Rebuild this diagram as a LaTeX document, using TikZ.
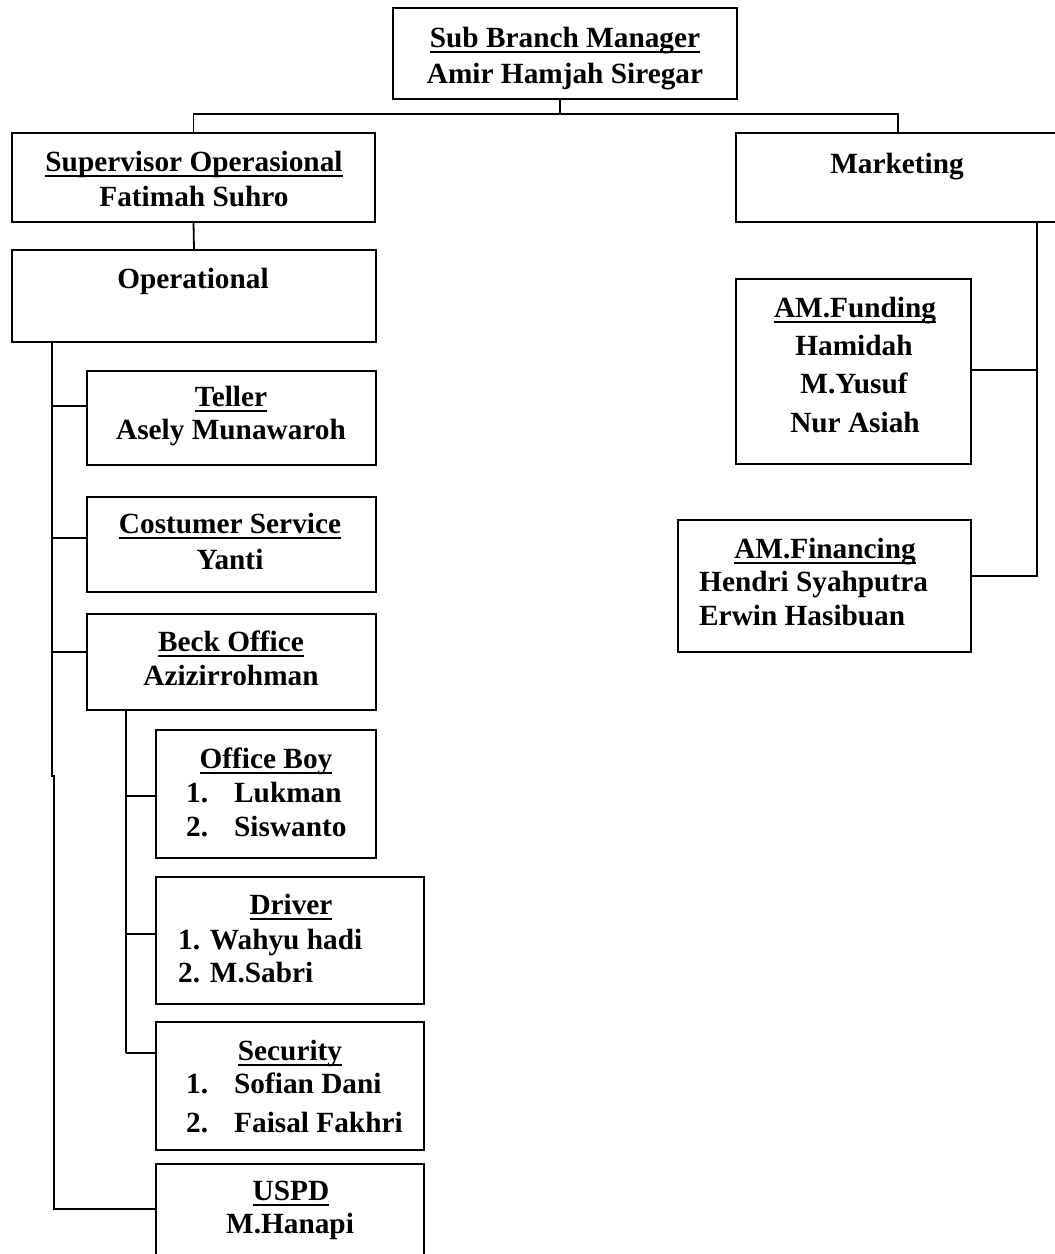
\documentclass[tikz,border=0pt]{standalone}
\usepackage{fontspec}
\setmainfont{Liberation Serif}
\newcommand\myul[1]{\setbox0\hbox{#1}\rlap{\rule[-6pt]{\wd0}{2.5pt}}\box0}
\begin{document}
\begin{tikzpicture}[x=1pt,y=-1pt,
  box/.style={draw, line width=2pt, inner sep=0pt, outer sep=0pt, anchor=north west},
  txt/.style={anchor=base, inner sep=0pt, font=\fontsize{29.3}{35}\selectfont\bfseries},
  txtl/.style={txt, anchor=base west},
  conn/.style={line width=1.8pt}]
\useasboundingbox (0,0) rectangle (1055,1254);
\fill[white] (0,0) rectangle (1055,1254);
\clip (0,0) rectangle (1055,1254);

% boxes
\node[box, minimum width=344pt, minimum height=91pt] (mgr) at (393,8) {};
\node[box, minimum width=363pt, minimum height=89pt] (spv) at (12,133) {};
\node[box, minimum width=324pt, minimum height=89pt] (mkt) at (736,133) {};
\node[box, minimum width=364pt, minimum height=92pt] (op) at (12,250) {};
\node[box, minimum width=289pt, minimum height=94pt] (teller) at (87,371) {};
\node[box, minimum width=289pt, minimum height=95pt] (cs) at (87,497) {};
\node[box, minimum width=289pt, minimum height=96pt] (beck) at (87,614) {};
\node[box, minimum width=220pt, minimum height=128pt] (ob) at (156,730) {};
\node[box, minimum width=268pt, minimum height=127pt] (drv) at (156,877) {};
\node[box, minimum width=268pt, minimum height=128pt] (sec) at (156,1022) {};
\node[box, minimum width=268pt, minimum height=96pt] (uspd) at (156,1164) {};
\node[box, minimum width=235pt, minimum height=185pt] (fund) at (736,279) {};
\node[box, minimum width=293pt, minimum height=132pt] (fin) at (678,520) {};

% texts
\node[txt] (t1) at (565,47) {\myul{Sub Branch Manager}};
\node[txt] (t2) at (565,83) {Amir Hamjah Siregar};
\node[txt] (t3) at (194,171) {\myul{Supervisor Operasional}};
\node[txt] (t4) at (194,206) {Fatimah Suhro};
\node[txt] (t5) at (897,173) {Marketing};
\node[txt] (t6) at (193,288) {Operational};
\node[txt] (t7) at (231,406) {\myul{Teller}};
\node[txt] (t8) at (231,439) {Asely Munawaroh};
\node[txt] (t9) at (230,533) {\myul{Costumer Service}};
\node[txt] (t10) at (230,569) {Yanti};
\node[txt] (t11) at (231,651) {\myul{Beck Office}};
\node[txt] (t12) at (231,685) {Azizirrohman};
\node[txt] (t13) at (266,768) {\myul{Office Boy}};
\node[txtl] (t14a) at (186,802) {1.};
\node[txtl] (t14b) at (234,802) {Lukman};
\node[txtl] (t15a) at (186,836) {2.};
\node[txtl] (t15b) at (234,836) {Siswanto};
\node[txt] (t16) at (291,914) {\myul{Driver}};
\node[txtl] (t17) at (178,949) {1. Wahyu hadi};
\node[txtl] (t18) at (178,982) {2. M.Sabri};
\node[txt] (t19) at (290,1060) {\myul{Security}};
\node[txtl] (t20a) at (186,1093) {1.};
\node[txtl] (t20b) at (234,1093) {Sofian Dani};
\node[txtl] (t21a) at (186,1132) {2.};
\node[txtl] (t21b) at (234,1132) {Faisal Fakhri};
\node[txt] (t22) at (291,1200) {\myul{USPD}};
\node[txt] (t23) at (290,1233) {M.Hanapi};
\node[txt] (t24) at (855,317) {\myul{AM.Funding}};
\node[txt] (t25) at (854,355) {Hamidah};
\node[txt] (t26) at (854,393) {M.Yusuf};
\node[txt] (t27) at (855,432) {Nur Asiah};
\node[txt] (t28) at (825,558) {\myul{AM.Financing}};
\node[txtl] (t29) at (699,591) {Hendri Syahputra};
\node[txtl] (t30) at (699,625) {Erwin Hasibuan};

% connectors
\coordinate (hl) at (0,114);
\path ([xshift=-5pt]mgr.south) coordinate (ms);
\draw[conn] (ms) -- (ms |- hl);
\draw[conn] (spv.north) -- (spv.north |- hl) -| (mkt.north);
\draw[conn] (spv.south) -- (op.north);

\coordinate (trunk) at (52,342);
\coordinate (jog) at (52,776);
\draw[conn] (trunk) -- (jog) -- ++(2,0) |- ([yshift=3pt]uspd.west);
\path ([yshift=12pt]teller.west) coordinate (jt);
\path ([yshift=6.5pt]cs.west) coordinate (jc);
\path ([yshift=10pt]beck.west) coordinate (jb);
\draw[conn] (jt) -- (jt -| trunk);
\draw[conn] (jc) -- (jc -| trunk);
\draw[conn] (jb) -- (jb -| trunk);

\coordinate (sub) at (126,710);
\path ([yshift=-2pt]ob.west) coordinate (jo);
\path ([yshift=6.5pt]drv.west) coordinate (jd);
\path ([yshift=33pt]sec.west) coordinate (js);
\draw[conn] (sub) -- (sub |- js);
\draw[conn] (jo) -- (jo -| sub);
\draw[conn] (jd) -- (jd -| sub);
\draw[conn] (js) -- (js -| sub);

\coordinate (mt) at (1037,222);
\path ([yshift=1.5pt]fund.east) coordinate (jf);
\path ([yshift=10pt]fin.east) coordinate (jn);
\draw[conn] (mt) |- (jn);
\draw[conn] (jf) -- (jf -| mt);
\end{tikzpicture}
\end{document}
